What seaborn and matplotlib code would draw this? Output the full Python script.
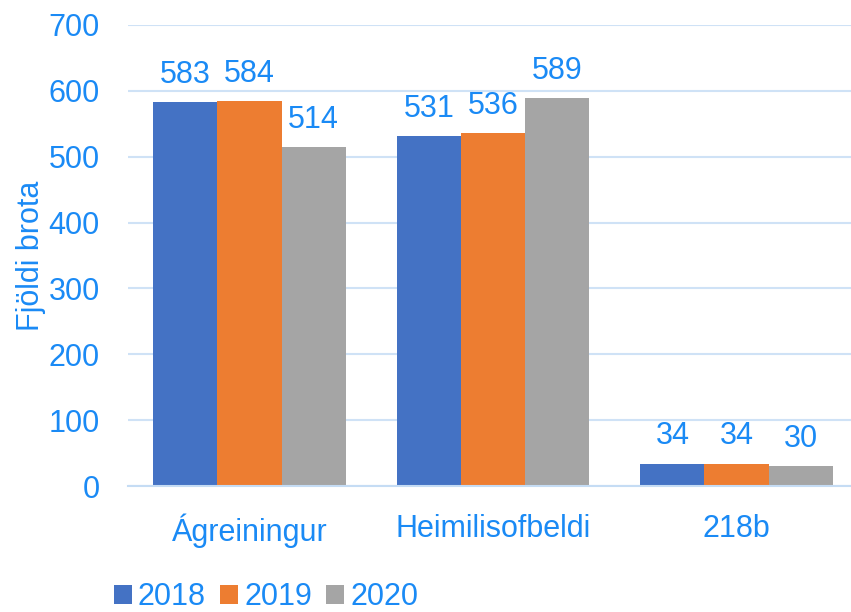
import pandas as pd
import seaborn as sns
import matplotlib.pyplot as plt

# Data
categories = ["Ágreiningur", "Heimilisofbeldi", "218b"]
years = ["2018", "2019", "2020"]
v2018 = [583, 531, 34]
v2019 = [584, 536, 34]
v2020 = [514, 589, 30]

colors = ["#4472C4", "#ED7D31", "#A5A5A5"]
txt = "#1A8AF5"

df = pd.DataFrame({
    "flokkur": categories * 3,
    "ar": [y for y in years for _ in categories],
    "fjoldi": v2018 + v2019 + v2020,
})

sns.set_style("white")
plt.rcParams["font.family"] = ["Liberation Sans Narrow", "Liberation Sans", "DejaVu Sans"]

fig = plt.figure(figsize=(8.51, 6.12), dpi=100)
ax = fig.add_axes([127.75 / 851, 126 / 612, 730.5 / 851, 461 / 612])

sns.barplot(data=df, x="flokkur", y="fjoldi", hue="ar", palette=colors,
            width=0.79, saturation=1, linewidth=0, ax=ax, legend=True)

for c in ax.containers:
    ax.bar_label(c, padding=9, fontsize=22, color=txt)

ax.set_ylim(0, 700)
ax.set_xlim(-0.5, 2.5)
ax.set_yticks(range(0, 701, 100))
ax.yaxis.grid(True, color="#CFE2F6", linewidth=1.5)
ax.set_axisbelow(True)
for s in ["top", "right", "left"]:
    ax.spines[s].set_visible(False)
ax.spines["bottom"].set_color("#C5DCF4")
ax.spines["bottom"].set_linewidth(1.5)

ax.tick_params(axis="y", labelsize=22, labelcolor=txt, length=0, pad=20)
ax.tick_params(axis="x", labelsize=22, labelcolor=txt, length=0, pad=20)
ax.set_xlabel("")
ax.set_ylabel("Fjöldi brota", fontsize=22, color=txt, labelpad=2)

h, l = ax.get_legend_handles_labels()
ax.get_legend().remove()
fig.legend(h, l, loc="lower left", bbox_to_anchor=(86 / 851, -0.045), ncol=3,
           frameon=False, fontsize=22, labelcolor=txt, handlelength=0.6,
           handleheight=0.6, handletextpad=0.2, columnspacing=0.45)

plt.savefig("out.png", dpi=100)
